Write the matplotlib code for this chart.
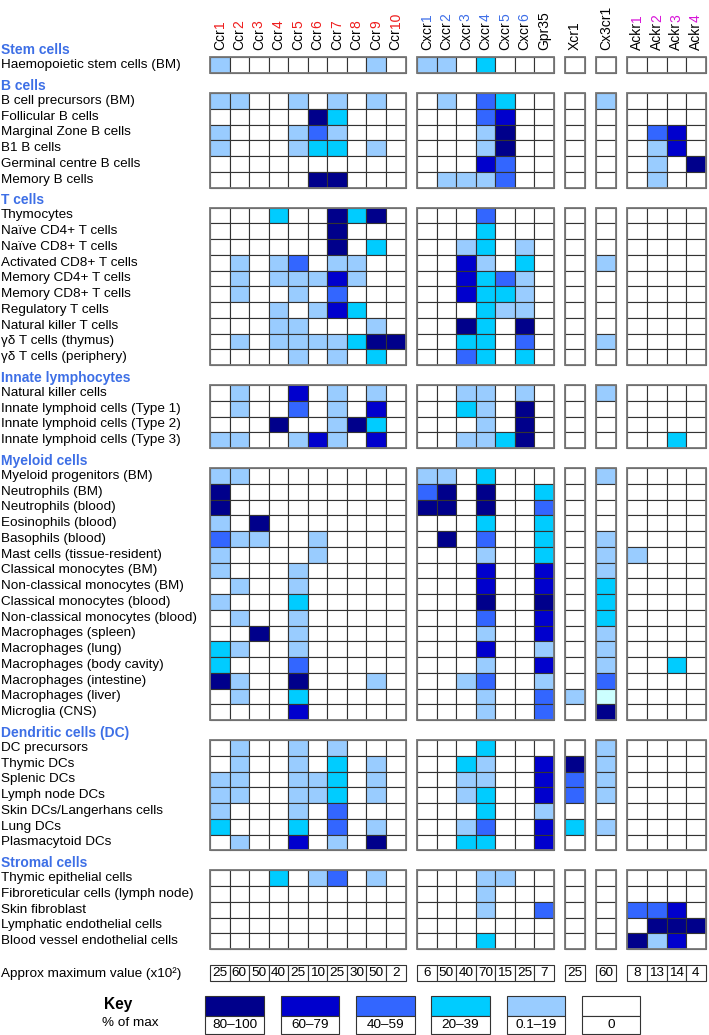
import matplotlib
matplotlib.use("Agg")
import matplotlib.pyplot as plt
from matplotlib.patches import Rectangle

plt.rcParams['font.family'] = ['Liberation Sans', 'DejaVu Sans']

# receptor columns, split into prefix (black) and number (coloured)
receptor_groups = [
    [("Ccr", str(i)) for i in range(1, 11)],
    [("Cxcr", str(i)) for i in range(1, 7)] + [("Gpr35", "")],
    [("Xcr1", "")],
    [("Cx3cr1", "")],
    [("Ackr", str(i)) for i in range(1, 5)],
]
digit_colours = ["#ee1c1c", "#3f6fe8", "black", "black", "#d814d8"]

cell_groups = ["Stem cells", "B cells", "T cells", "Innate lymphocytes",
               "Myeloid cells", "Dendritic cells (DC)", "Stromal cells"]

stem_cells = ["Haemopoietic stem cells (BM)"]
b_cells = ["B cell precursors (BM)", "Follicular B cells", "Marginal Zone B cells",
           "B1 B cells", "Germinal centre B cells", "Memory B cells"]
t_cells = ["Thymocytes", "Naïve CD4+ T cells", "Naïve CD8+ T cells",
           "Activated CD8+ T cells", "Memory CD4+ T cells", "Memory CD8+ T cells",
           "Regulatory T cells", "Natural killer T cells",
           "γδ T cells (thymus)", "γδ T cells (periphery)"]
innate_cells = ["Natural killer cells", "Innate lymphoid cells (Type 1)",
                "Innate lymphoid cells (Type 2)", "Innate lymphoid cells (Type 3)"]
myeloid_cells = ["Myeloid progenitors (BM)", "Neutrophils (BM)", "Neutrophils (blood)",
                 "Eosinophils (blood)", "Basophils (blood)", "Mast cells (tissue-resident)",
                 "Classical monocytes (BM)", "Non-classical monocytes (BM)",
                 "Classical monocytes (blood)", "Non-classical monocytes (blood)",
                 "Macrophages (spleen)", "Macrophages (lung)", "Macrophages (body cavity)",
                 "Macrophages (intestine)", "Macrophages (liver)", "Microglia (CNS)"]
dc_cells = ["DC precursors", "Thymic DCs", "Splenic DCs", "Lymph node DCs",
            "Skin DCs/Langerhans cells", "Lung DCs", "Plasmacytoid DCs"]
stromal_cells = ["Thymic epithelial cells", "Fibroreticular cells (lymph node)",
                 "Skin fibroblast", "Lymphatic endothelial cells",
                 "Blood vessel endothelial cells"]

# expression level per cell: 0 = none ... 5 = 80-100 % of max, L = faint (liver Cx3cr1)
stem_levels = ["1000000010 1102000 0 0 0000"]
b_levels = ["1100101010 0103200 0 1 0000",
            "0000052000 0003400 0 0 0000",
            "1000131000 0001500 0 0 0340",
            "1000122010 0001500 0 0 0140",
            "0000000000 0004300 0 0 0105",
            "0000055000 0111300 0 0 0100"]
t_levels = ["0002005250 0003000 0 0 0000",
            "0000005000 0002000 0 0 0000",
            "0000005020 0012010 0 0 0000",
            "0101301100 0041020 0 1 0000",
            "0101114100 0042310 0 0 0000",
            "0100103000 0042210 0 0 0000",
            "0001014200 0002110 0 0 0000",
            "0001100010 0052050 0 0 0000",
            "0101111255 0022030 0 1 0000",
            "0000101020 0032020 0 0 0000"]
innate_levels = ["0100401010 0011010 0 1 0000",
                 "0100301040 0021050 0 0 0000",
                 "0005001520 0001050 0 0 0000",
                 "1100141040 0011250 0 0 0020"]
myeloid_levels = ["1100000000 1102000 0 1 0000",
                  "5000000000 3505002 0 0 0000",
                  "5000000000 5505003 0 0 0000",
                  "1050000000 0002002 0 0 0000",
                  "3110010000 0503002 0 1 0000",
                  "1000010000 0001002 0 1 1000",
                  "1000100000 0004004 0 1 0000",
                  "0100100000 0004004 0 2 0000",
                  "1000200000 0005005 0 2 0000",
                  "0100100000 0003004 0 2 0000",
                  "0050100000 0001004 0 1 0000",
                  "2100100000 0004001 0 1 0000",
                  "2000300000 0001004 0 1 0020",
                  "5100500010 0013001 0 3 0000",
                  "0100200000 0001003 1 L 0000",
                  "0000400000 0001003 0 5 0000"]
dc_levels = ["0100101000 0002000 0 1 0000",
             "0100102010 0021004 5 1 0000",
             "1100112010 0011004 3 1 0000",
             "1100112010 0012004 3 1 0000",
             "1000103000 0002001 0 0 0000",
             "2000203010 0013004 2 1 0000",
             "0100401050 0022004 0 0 0000"]
stromal_levels = ["0002013010 0001100 0 0 0000",
                  "0000000000 0001000 0 0 0000",
                  "0000000000 0001003 0 0 3340",
                  "0000000000 0000000 0 0 0555",
                  "0000000000 0002000 0 0 5140"]

max_values = [25, 60, 50, 40, 25, 10, 25, 30, 50, 2,
              6, 50, 40, 70, 15, 25, 7,
              25, 60, 8, 13, 14, 4]

key_labels = ["80–100", "60–79", "40–59", "20–39", "0.1–19", "0"]
level_colours = {"0": "white", "1": "#99ccff", "2": "#00ccff", "3": "#3366ff",
                 "4": "#0000cd", "5": "#00008b", "L": "#ccffff"}
key_levels = ["5", "4", "3", "2", "1", "0"]

blocks = list(zip(cell_groups,
                  [stem_cells, b_cells, t_cells, innate_cells, myeloid_cells, dc_cells, stromal_cells],
                  [stem_levels, b_levels, t_levels, innate_levels, myeloid_levels, dc_levels, stromal_levels]))

# layout (pixel units of the 709x1035 canvas)
x0, cw, col_gap = 210, 19.55, 11.5
y0, ch, block_gap = 57.3, 15.75, 20
edge = "#333333"
head_blue = "#3d6fe6"
fs = 9.7

fig = plt.figure(figsize=(7.09, 10.35), dpi=100)
ax = fig.add_axes([0, 0, 1, 1])
ax.set_xlim(0, 709)
ax.set_ylim(1035, 0)
ax.axis("off")

# column positions
col_x = []
group_spans = []
x = x0
for grp in receptor_groups:
    start = x
    for _ in grp:
        col_x.append(x)
        x += cw
    group_spans.append((start, x))
    x += col_gap

# column labels
fig.canvas.draw()
ci = 0
for gi, grp in enumerate(receptor_groups):
    for prefix, num in grp:
        xc = col_x[ci] + cw / 2
        t = ax.text(xc, 50, prefix, rotation=90, ha="center", va="bottom",
                    fontsize=fs + 0.3, color="black")
        if num:
            ax.annotate(num, xy=(0.5, 1), xycoords=t, rotation=90, ha="center",
                        va="bottom", fontsize=fs + 0.3, color=digit_colours[gi])
        ci += 1

# heatmap blocks
y = y0
for name, rows, levels in blocks:
    ax.text(1, y - 7.5, name, ha="left", va="center", fontsize=fs + 0.3,
            fontweight="bold", color=head_blue)
    for r, (label, lev) in enumerate(zip(rows, levels)):
        yr = y + r * ch
        ax.text(1, yr + ch / 2, label, ha="left", va="center", fontsize=fs)
        codes = lev.replace(" ", "")
        for c, code in enumerate(codes):
            ax.add_patch(Rectangle((col_x[c], yr), cw, ch, facecolor=level_colours[code],
                                   edgecolor=edge, lw=0.8))
    for xs, xe in group_spans:
        ax.add_patch(Rectangle((xs, y), xe - xs, len(rows) * ch, fill=False,
                               edgecolor="#777777", lw=1.3))
    y += len(rows) * ch + block_gap

# approx maximum value row
ym = 965.3
ax.text(1, ym + 8, "Approx maximum value (x10²)", ha="left", va="center", fontsize=fs)
for c, v in enumerate(max_values):
    ax.add_patch(Rectangle((col_x[c], ym), cw, 15.5, facecolor="white",
                           edgecolor=edge, lw=0.8))
    ax.text(col_x[c] + cw / 2, ym + 8, str(v), ha="center", va="center", fontsize=fs)

# key
ax.text(118, 1004, "Key", ha="center", va="center", fontsize=fs + 1.5, fontweight="bold")
ax.text(130, 1023, "% of max", ha="center", va="center", fontsize=fs)
kx, kw, kstep = 205.3, 58.6, 75.3
for i, (lab, lv) in enumerate(zip(key_labels, key_levels)):
    xk = kx + i * kstep
    ax.add_patch(Rectangle((xk, 996), kw, 19.7, facecolor=level_colours[lv],
                           edgecolor=edge, lw=0.8))
    ax.add_patch(Rectangle((xk, 1015.7), kw, 18.3, facecolor="white",
                           edgecolor=edge, lw=0.8))
    ax.text(xk + kw / 2, 1025, lab, ha="center", va="center", fontsize=fs)

fig.savefig("out.png", dpi=100)
